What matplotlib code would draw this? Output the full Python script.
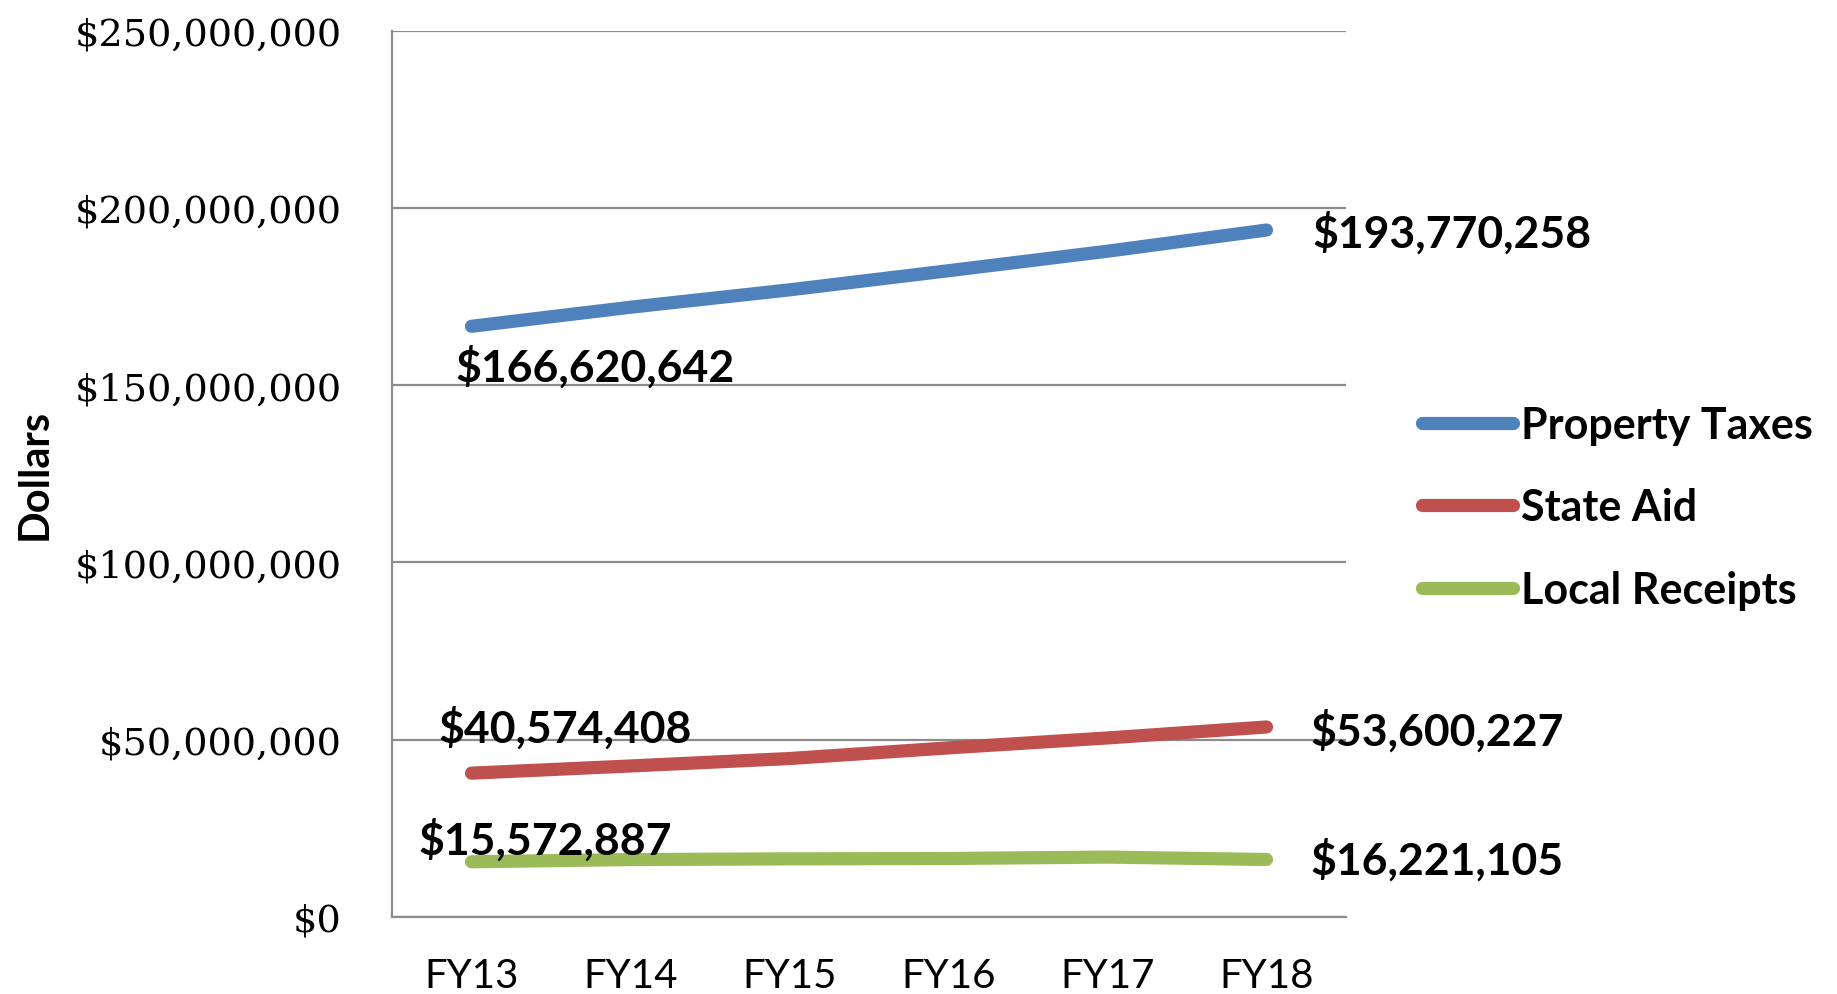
import numpy as np
import matplotlib
matplotlib.use("Agg")
import matplotlib.pyplot as plt
from matplotlib.ticker import FuncFormatter

years = ["FY13", "FY14", "FY15", "FY16", "FY17", "FY18"]
property_taxes = [166620642, 172000000, 176900000, 182300000, 187800000, 193770258]
state_aid = [40574408, 42600000, 44700000, 47700000, 50500000, 53600227]
local_receipts = [15572887, 16200000, 16400000, 16500000, 16900000, 16221105]

series_names = ["Property Taxes", "State Aid", "Local Receipts"]
colors = ["#4F81BD", "#C0504D", "#9BBB59"]

# label offsets in pixels: (first point, last point)
label_offsets = [((-16, -40), (46, -2)),
                 ((-33, 46), (44, -3)),
                 ((-53, 23), (44, 0))]

W, H = 1837, 995
fig = plt.figure(figsize=(W / 100, H / 100), dpi=100)
ax = fig.add_axes([392 / W, 1 - 918 / H, (1346 - 392) / W, (918 - 31.7) / H])

x = np.arange(len(years))
bold = dict(family="Lato", weight="bold", size=32, color="black")

for vals, name, col, offs in zip([property_taxes, state_aid, local_receipts],
                                 series_names, colors, label_offsets):
    ax.plot(x, vals, color=col, lw=9.5, solid_capstyle="round",
            solid_joinstyle="round", label=name, zorder=3)
    for idx, off in zip([0, len(vals) - 1], offs):
        ax.annotate("${:,.0f}".format(vals[idx]), (x[idx], vals[idx]),
                    xytext=off, textcoords="offset pixels",
                    ha="left", va="center", zorder=4, **bold)

ax.set_xlim(-0.5, len(years) - 0.5)
ax.set_ylim(0, 250000000)
ax.set_yticks(np.arange(0, 250000001, 50000000))
ax.yaxis.set_major_formatter(FuncFormatter(lambda v, p: "${:,.0f}".format(v)))
ax.set_xticks(x)
ax.set_xticklabels(years)

ax.grid(axis="y", color="#8c8c8c", lw=1.6, zorder=1)
ax.set_axisbelow(True)
for s in ["top", "right"]:
    ax.spines[s].set_visible(False)
for s in ["left", "bottom"]:
    ax.spines[s].set_color("#8c8c8c")
    ax.spines[s].set_linewidth(1.6)

ax.tick_params(axis="y", length=0, pad=36)
ax.tick_params(axis="x", length=0, pad=29)
for t in ax.get_yticklabels():
    t.set_fontfamily("DejaVu Serif")
    t.set_fontsize(27.5)
for t in ax.get_xticklabels():
    t.set_fontfamily("Lato")
    t.set_fontsize(29)

fig.text(35 / W, 1 - 474 / H, "Dollars", rotation=90, ha="center", va="center",
         family="Lato", weight="bold", size=30)

leg = fig.legend(loc="upper left", bbox_to_anchor=(1405 / W, 1 - 389 / H),
                 frameon=False, handlelength=2.1, handletextpad=0.2,
                 labelspacing=0.98, borderaxespad=0,
                 prop=dict(family="Lato", weight="bold", size=31))
for line in leg.get_lines():
    line.set_linewidth(9.5)
    line.set_solid_capstyle("round")

fig.savefig("out.png", dpi=100)
